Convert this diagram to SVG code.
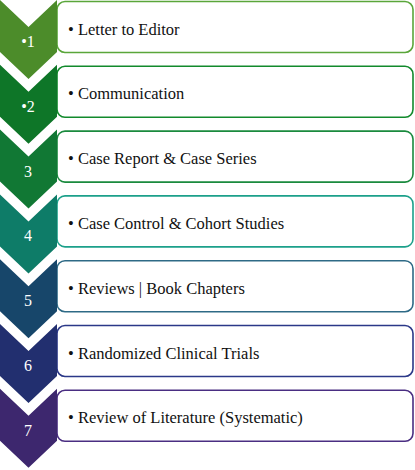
<svg xmlns="http://www.w3.org/2000/svg" width="415" height="470" viewBox="0 0 415 470">
<defs>
<style>
.box{fill:#ffffff;stroke-width:1.6}
.lbl{font-family:"Liberation Serif","DejaVu Serif",serif;font-size:16.5px;fill:#111111}
.num{font-family:"Liberation Serif","DejaVu Serif",serif;font-size:16px;fill:#ffffff;text-anchor:middle}
</style>
<path id="chev" d="M0,0 L28.5,27 L57,0 L57,52 L28.5,79 L0,52 Z"/>
</defs>
<rect width="415" height="470" fill="#ffffff"/>
<g id="connectors"></g>
<g id="node1">
<rect class="box" x="57" y="1.5" width="356" height="51" rx="8" stroke="#5aa63a"/>
<use href="#chev" x="0" y="0" fill="#4c8c2a"/>
<text class="num" x="28" y="47">•1</text>
<text class="lbl" x="68" y="34.5">• Letter to Editor</text>
</g>
<g id="node2">
<rect class="box" x="57" y="66.3" width="356" height="51" rx="8" stroke="#128a2c"/>
<use href="#chev" x="0" y="64.8" fill="#0e7628"/>
<text class="num" x="28" y="111.8">•2</text>
<text class="lbl" x="68" y="99.3">• Communication</text>
</g>
<g id="node3">
<rect class="box" x="57" y="131.1" width="356" height="51" rx="8" stroke="#1a8a3e"/>
<use href="#chev" x="0" y="129.6" fill="#117834"/>
<text class="num" x="28" y="176.6">3</text>
<text class="lbl" x="68" y="164.1">• Case Report &amp; Case Series</text>
</g>
<g id="node4">
<rect class="box" x="57" y="195.9" width="356" height="51" rx="8" stroke="#1ca08a"/>
<use href="#chev" x="0" y="194.4" fill="#0e7c68"/>
<text class="num" x="28" y="241.4">4</text>
<text class="lbl" x="68" y="228.9">• Case Control &amp; Cohort Studies</text>
</g>
<g id="node5">
<rect class="box" x="57" y="260.7" width="356" height="51" rx="8" stroke="#2e6a86"/>
<use href="#chev" x="0" y="259.2" fill="#17466a"/>
<text class="num" x="28" y="306.2">5</text>
<text class="lbl" x="68" y="293.7">• Reviews | Book Chapters</text>
</g>
<g id="node6">
<rect class="box" x="57" y="325.5" width="356" height="51" rx="8" stroke="#2b3888"/>
<use href="#chev" x="0" y="324" fill="#222f6f"/>
<text class="num" x="28" y="371">6</text>
<text class="lbl" x="68" y="358.5">• Randomized Clinical Trials</text>
</g>
<g id="node7">
<rect class="box" x="57" y="390.3" width="356" height="51" rx="8" stroke="#4a2e82"/>
<use href="#chev" x="0" y="388.8" fill="#3d276e"/>
<text class="num" x="28" y="435.8">7</text>
<text class="lbl" x="68" y="423.3">• Review of Literature (Systematic)</text>
</g>
</svg>
